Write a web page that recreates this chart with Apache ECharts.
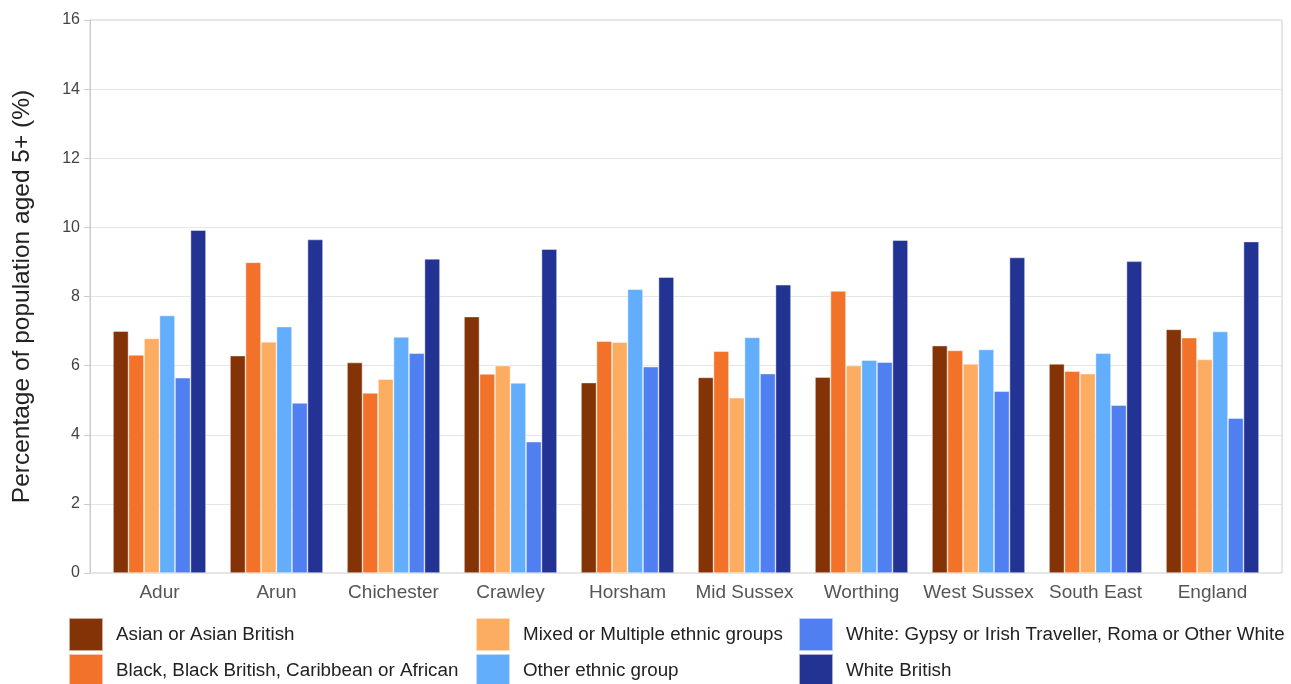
<!DOCTYPE html>
<html>
<head>
<meta charset="utf-8">
<script src="https://cdn.jsdelivr.net/npm/echarts@6/dist/echarts.min.js"></script>
<style>html,body{margin:0;padding:0;background:#fff;}#c{width:1291px;height:684px;}</style>
</head>
<body>
<div id="c"></div>
<script>
const categories = ['Adur','Arun','Chichester','Crawley','Horsham','Mid Sussex','Worthing','West Sussex','South East','England'];
const seriesNames = ['Asian or Asian British','Black, Black British, Caribbean or African','Mixed or Multiple ethnic groups','Other ethnic group','White: Gypsy or Irish Traveller, Roma or Other White','White British'];
const asian = [7.00,6.29,6.09,7.42,5.51,5.66,5.67,6.58,6.05,7.05];
const black = [6.31,8.99,5.21,5.76,6.71,6.42,8.16,6.44,5.84,6.81];
const mixed = [6.79,6.69,5.61,6.00,6.68,5.07,6.00,6.05,5.77,6.18];
const other = [7.45,7.13,6.83,5.50,8.21,6.82,6.16,6.47,6.36,6.99];
const whiteOther = [5.65,4.92,6.36,3.80,5.97,5.77,6.10,5.26,4.86,4.48];
const whiteBritish = [9.92,9.65,9.09,9.37,8.56,8.34,9.63,9.13,9.02,9.59];
const yTicks = [0,2,4,6,8,10,12,14,16];

const colors = ['#843306','#F2722A','#FDAD61','#62AEFD','#507FF1','#233393'];
const dataSets = [asian, black, mixed, other, whiteOther, whiteBritish];

// legend slot positions (column-major: 3 columns x 2 rows)
const legendLefts = [68, 68, 475, 475, 798, 798];
const legendTops = [617, 653, 617, 653, 617, 653];

const yMin = yTicks[0], yMax = yTicks[yTicks.length-1];
const chart = echarts.init(document.getElementById('c'));
chart.setOption({
  animation: false,
  color: colors,
  textStyle: { fontFamily: 'Liberation Sans, Arial' },
  grid: [
    { left: 90, right: 9, top: 20, bottom: 111, show: true, borderColor: '#cccccc', borderWidth: 1 },
    { left: 101, right: 20, top: 20, bottom: 111 }
  ],
  legend: seriesNames.map((n, i) => ({
    orient: 'horizontal', left: legendLefts[i], top: legendTops[i], padding: 0,
    itemWidth: 34, itemHeight: 33, icon: 'rect', selectedMode: false,
    data: [n],
    textStyle: { fontFamily: 'Liberation Sans, Arial', fontSize: 18.8, color: '#222', padding: [0,0,0,8] }
  })),
  xAxis: [
    { type: 'value', gridIndex: 0, show: false },
    {
      type: 'category', gridIndex: 1, data: categories,
      axisLine: { show: false },
      axisTick: { alignWithLabel: true, length: 6, lineStyle: { color: '#bbbbbb' } },
      axisLabel: { fontSize: 19, color: '#555', margin: 10, interval: 0 }
    }
  ],
  yAxis: [
    {
      type: 'value', gridIndex: 0, min: yMin, max: yMax, interval: 2,
      name: 'Percentage of population aged 5+ (%)', nameLocation: 'middle', nameGap: 55,
      nameTextStyle: { fontSize: 24.5, color: '#222' },
      axisLine: { show: true, lineStyle: { color: '#cccccc' } },
      axisTick: { show: true, length: 6, lineStyle: { color: '#cccccc' } },
      axisLabel: { fontSize: 16, color: '#444', margin: 10 },
      splitLine: { lineStyle: { color: '#e6e6e6' } }
    },
    { type: 'value', gridIndex: 1, min: yMin, max: yMax, interval: 2, show: false, splitLine: { show: false } }
  ],
  series: seriesNames.map((n, i) => ({
    name: n, type: 'bar', data: dataSets[i], xAxisIndex: 1, yAxisIndex: 1,
    barGap: '0%', barCategoryGap: '20.5%',
    itemStyle: { color: colors[i], borderColor: 'rgba(255,255,255,0.6)', borderWidth: 0.7 }
  }))
});
</script>
</body>
</html>
